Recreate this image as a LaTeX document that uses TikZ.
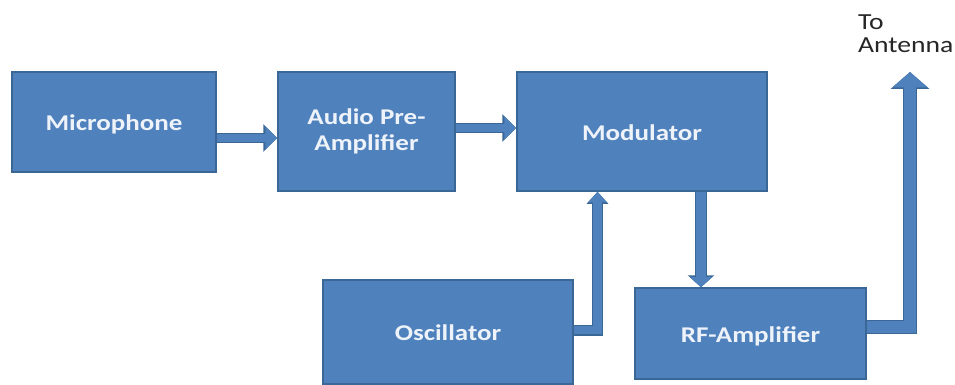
\documentclass[tikz,border=0pt]{standalone}
\usepackage{fontspec}
\setmainfont{Carlito}[FakeStretch=1.2]
\usetikzlibrary{arrows.meta}
\definecolor{blkfill}{HTML}{4F81BD}
\definecolor{blkedge}{HTML}{3A6796}
\definecolor{blktext}{HTML}{EEF3FA}
\tikzset{
  blk/.style={draw=blkedge, line width=1.5pt, fill=blkfill, text=blktext,
    font=\fontsize{22.5pt}{26pt}\selectfont\bfseries, align=center, inner sep=0pt},
  oneline/.style={text height=22pt, text depth=5pt},
  arr/.style n args={6}{draw=blkfill, line width=#2, line join=miter,
    -{Triangle[length=#5,width=#6]},
    preaction={draw=blkedge, line width=#1, line join=miter,
      -{Triangle[length=#3,width=#4]}}},
}
\begin{document}
\begin{tikzpicture}[x=1pt,y=-1pt]
\useasboundingbox (0,0) rectangle (955,385);
\node[blk, oneline, minimum width=204pt, minimum height=100pt] (mic) at (114,122) {Microphone};
\node[blk, minimum width=177pt, minimum height=119pt] (pre) at (366.5,131.5) {Audio Pre-\\Amplifier};
\node[blk, oneline, minimum width=250pt, minimum height=119pt] (mod) at (642,131.5) {Modulator};
\node[blk, oneline, minimum width=250pt, minimum height=104pt] (osc) at (448,332) {Oscillator};
\node[blk, oneline, minimum width=231pt, minimum height=91pt] (rf) at (750.5,333.5) {RF-Amplifier};
\node[align=left, anchor=north west, inner sep=0pt, text=black!85,
  font=\fontsize{23pt}{23pt}\selectfont] (ant) at (858,15) {To\\Antenna};
\coordinate (j1) at (597.5,0);
\coordinate (j2) at (701,0);
\coordinate (tip) at (910,72);
\draw[arr={10.5pt}{8pt}{14pt}{27pt}{12pt}{23pt}]
  ([yshift=-16pt]mic.east) -- ([yshift=-16pt]mic.east -| pre.west);
\draw[arr={10.5pt}{8pt}{14pt}{27pt}{12pt}{23pt}]
  ([yshift=3.5pt]pre.east) -- ([yshift=3.5pt]pre.east -| mod.west);
\draw[arr={11pt}{8.5pt}{12pt}{21pt}{10.5pt}{17.5pt}]
  ([yshift=2pt]osc.east) -| (j1 |- mod.south);
\draw[arr={12pt}{9.5pt}{12pt}{26pt}{10.5pt}{22.5pt}]
  (j2 |- mod.south) -- (j2 |- rf.north);
\draw[arr={14pt}{11.5pt}{17pt}{38pt}{15.5pt}{34.5pt}]
  ([yshift=6.5pt]rf.east) -| (tip);
\end{tikzpicture}
\end{document}
